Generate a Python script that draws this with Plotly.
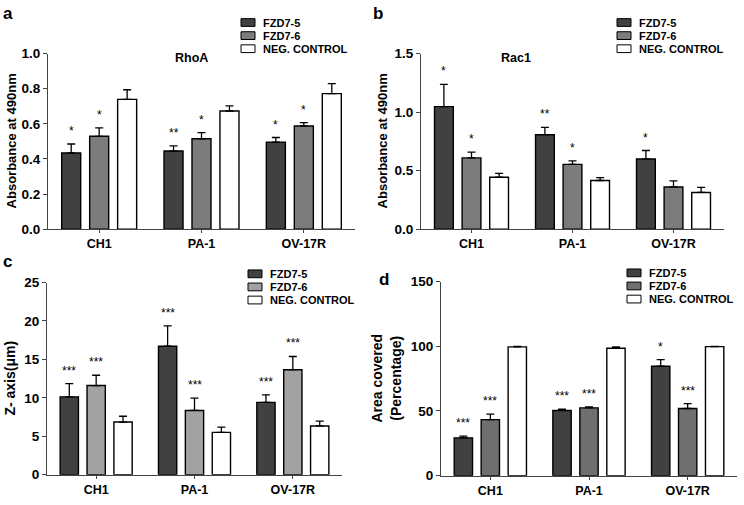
import plotly.graph_objects as go

W, H = 744, 505

categories = ["CH1", "PA-1", "OV-17R"]
series = ["FZD7-5", "FZD7-6", "NEG. CONTROL"]

# panel a - RhoA
rhoa_fzd75 = [0.434, 0.445, 0.496]
rhoa_fzd76 = [0.529, 0.515, 0.588]
rhoa_neg = [0.739, 0.673, 0.772]
rhoa_fzd75_err = [0.051, 0.029, 0.026]
rhoa_fzd76_err = [0.048, 0.035, 0.019]
rhoa_neg_err = [0.055, 0.029, 0.057]
rhoa_fzd75_sig = ["*", "**", "*"]
rhoa_fzd76_sig = ["*", "*", "*"]

# panel b - Rac1
rac1_fzd75 = [1.047, 0.807, 0.600]
rac1_fzd76 = [0.609, 0.554, 0.361]
rac1_neg = [0.444, 0.416, 0.314]
rac1_fzd75_err = [0.190, 0.063, 0.072]
rac1_fzd76_err = [0.049, 0.030, 0.052]
rac1_neg_err = [0.033, 0.025, 0.044]
rac1_fzd75_sig = ["*", "**", "*"]
rac1_fzd76_sig = ["*", "*", ""]

# panel c - Z-axis
z_fzd75 = [10.13, 16.72, 9.41]
z_fzd76 = [11.60, 8.36, 13.66]
z_neg = [6.85, 5.50, 6.34]
z_fzd75_err = [1.72, 2.65, 0.97]
z_fzd76_err = [1.34, 1.60, 1.72]
z_neg_err = [0.75, 0.68, 0.63]
z_fzd75_sig = ["***", "***", "***"]
z_fzd76_sig = ["***", "***", "***"]

# panel d - area covered
area_fzd75 = [29.2, 50.4, 84.6]
area_fzd76 = [43.3, 52.4, 51.9]
area_neg = [99.5, 98.5, 99.7]
area_fzd75_err = [1.3, 1.0, 5.1]
area_fzd76_err = [4.3, 0.7, 3.8]
area_neg_err = [0.5, 1.0, 0.3]
area_fzd75_sig = ["***", "***", "*"]
area_fzd76_sig = ["***", "***", "***"]

FONT = "Arial, 'Liberation Sans', sans-serif"
DARK = "#414141"
BARGAP = 0.18

# pixel boxes of each plot area: (left, right, top, bottom)
panels = [
    dict(letter="a", box=(48, 355, 48, 229), yrange=[0, 1.0], dtick=0.2, fmt=".1f",
         means=[rhoa_fzd75, rhoa_fzd76, rhoa_neg], errs=[rhoa_fzd75_err, rhoa_fzd76_err, rhoa_neg_err],
         sigs=[rhoa_fzd75_sig, rhoa_fzd76_sig], gray="#7c7c7c",
         ytitle="Absorbance at 490nm", ytitle_x=11, tsize=13, title="RhoA", title_x=173,
         leg=(241, 16), letter_xy=(8, 7)),
    dict(letter="b", box=(421, 724, 48, 229), yrange=[0, 1.5], dtick=0.5, fmt=".1f",
         means=[rac1_fzd75, rac1_fzd76, rac1_neg], errs=[rac1_fzd75_err, rac1_fzd76_err, rac1_neg_err],
         sigs=[rac1_fzd75_sig, rac1_fzd76_sig], gray="#7c7c7c",
         ytitle="Absorbance at 490nm", ytitle_x=382, tsize=13, title="Rac1", title_x=533,
         leg=(617, 16), letter_xy=(378, 7)),
    dict(letter="c", box=(47, 342, 284, 482), yrange=[0, 25], dtick=5, fmt="d",
         means=[z_fzd75, z_fzd76, z_neg], errs=[z_fzd75_err, z_fzd76_err, z_neg_err],
         sigs=[z_fzd75_sig, z_fzd76_sig], gray="#a2a2a2",
         ytitle="Z- axis(μm)", ytitle_x=10, tsize=14, title=None, title_x=None,
         leg=(248, 275), letter_xy=(7, 262)),
    dict(letter="d", box=(441, 737, 283, 483), yrange=[0, 150], dtick=50, fmt="d",
         means=[area_fzd75, area_fzd76, area_neg], errs=[area_fzd75_err, area_fzd76_err, area_neg_err],
         sigs=[area_fzd75_sig, area_fzd76_sig], gray="#6f6f6f",
         ytitle="Area covered<br>(Percentage)", ytitle_x=386, tsize=14, title=None, title_x=None,
         leg=(627, 274), letter_xy=(384, 281)),
]

fig = go.Figure()
annotations = []
shapes = []
layout = {}

for n, p in enumerate(panels, start=1):
    left, right, top, bottom = p["box"]
    xa = "x" if n == 1 else f"x{n}"
    ya = "y" if n == 1 else f"y{n}"
    colors = [DARK, p["gray"], "white"]

    for i in range(3):
        fig.add_trace(go.Bar(
            x=categories, y=p["means"][i], name=series[i],
            marker=dict(color=colors[i], line=dict(color="black", width=1.4)),
            error_y=dict(type="data", array=p["errs"][i], arrayminus=[0] * 3, symmetric=False,
                         color="black", thickness=1.3, width=4),
            xaxis=xa, yaxis=ya, showlegend=False,
        ))

    layout["xaxis" if n == 1 else f"xaxis{n}"] = dict(
        domain=[left / W, right / W], anchor=ya, type="category", range=[-0.5, 2.5],
        showline=True, linecolor="#444", linewidth=1, ticks="outside", ticklen=3,
        tickcolor="#444", showgrid=False, zeroline=False,
        tickfont=dict(family=FONT, size=12.5, color="black", weight="bold"),
    )
    layout["yaxis" if n == 1 else f"yaxis{n}"] = dict(
        domain=[1 - bottom / H, 1 - top / H], anchor=xa, range=p["yrange"], dtick=p["dtick"],
        tickformat=p["fmt"], showline=True, linecolor="#444", linewidth=1, ticks="outside",
        ticklen=4, tickcolor="#444", showgrid=False, zeroline=False,
        tickfont=dict(family=FONT, size=13.5, color="black", weight="bold"),
    )

    # significance stars above the error bars
    slot = (right - left) / 3 * (1 - BARGAP) / 3
    for i in range(2):
        for j, cat in enumerate(categories):
            s = p["sigs"][i][j]
            if not s:
                continue
            annotations.append(dict(
                x=cat, y=p["means"][i][j] + p["errs"][i][j], xref=xa, yref=ya,
                xshift=(i - 1) * slot, yshift=4, yanchor="bottom", showarrow=False, text=s,
                font=dict(family=FONT, size=12, color="black"),
            ))

    # y title
    annotations.append(dict(
        x=p["ytitle_x"] / W, y=1 - (top + bottom) / 2 / H, xref="paper", yref="paper",
        text=p["ytitle"], textangle=-90, showarrow=False, xanchor="center", yanchor="middle",
        font=dict(family=FONT, size=p["tsize"], color="black", weight="bold"),
    ))
    if p["title"]:
        annotations.append(dict(
            x=p["title_x"] / W, y=1 - 43 / H, xref="paper", yref="paper", text=p["title"],
            showarrow=False, font=dict(family=FONT, size=12.5, color="black", weight="bold"),
        ))
    # panel letter
    lx, ly = p["letter_xy"]
    annotations.append(dict(
        x=lx / W, y=1 - ly / H, xref="paper", yref="paper", text=p["letter"], showarrow=False,
        xanchor="center", yanchor="middle",
        font=dict(family=FONT, size=17, color="black", weight="bold"),
    ))

    # legend
    gx, gy = p["leg"]
    for i in range(3):
        cy = gy + i * 13.5
        shapes.append(dict(
            type="rect", xref="paper", yref="paper", x0=gx / W, x1=(gx + 14) / W,
            y0=1 - (cy - 4) / H, y1=1 - (cy + 4) / H,
            fillcolor=colors[i], line=dict(color="black", width=1),
        ))
        annotations.append(dict(
            x=(gx + 20) / W, y=1 - cy / H, xref="paper", yref="paper", text=series[i],
            showarrow=False, xanchor="left", yanchor="middle",
            font=dict(family=FONT, size=11, color="black", weight="bold"),
        ))

fig.update_layout(
    width=W, height=H, margin=dict(l=0, r=0, t=0, b=0),
    paper_bgcolor="white", plot_bgcolor="white",
    barmode="group", bargap=BARGAP, bargroupgap=0.32,
    annotations=annotations, shapes=shapes, showlegend=False,
    **layout,
)

# drop the default page margin so the figure sits at the window origin
fig.write_html("out.html", config={"displayModeBar": False},
               post_script="document.body.style.margin='0';")
